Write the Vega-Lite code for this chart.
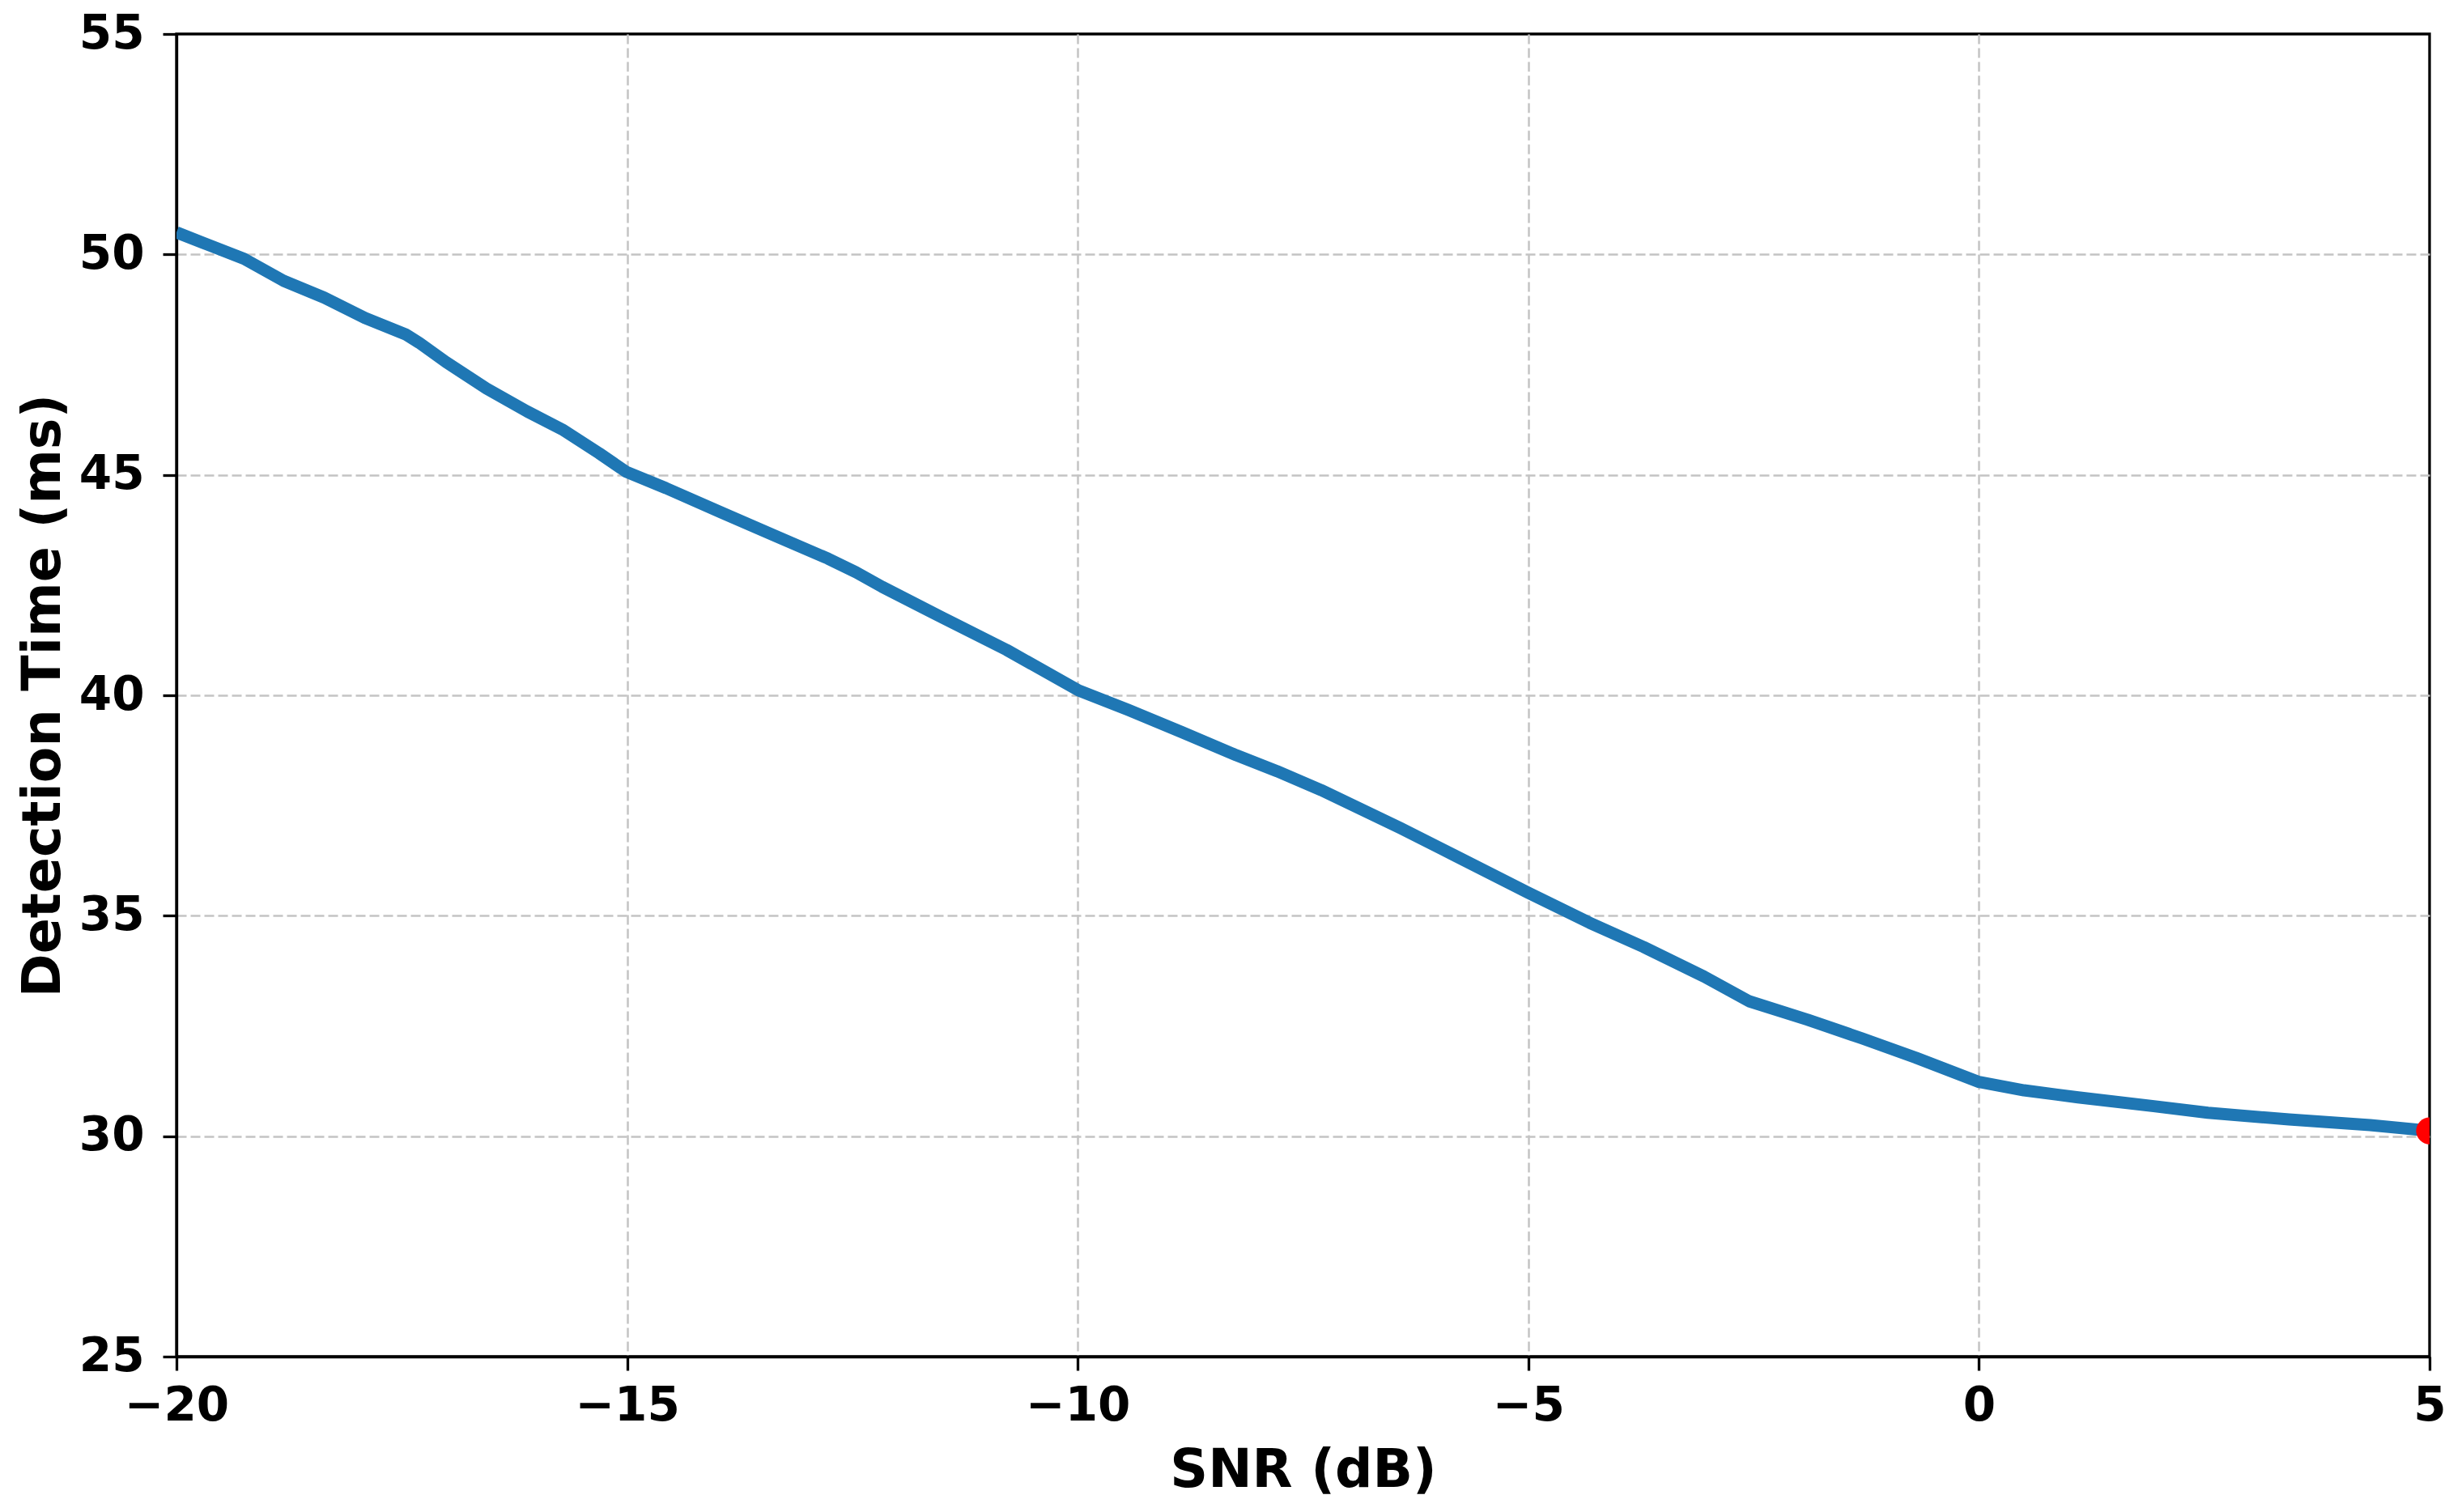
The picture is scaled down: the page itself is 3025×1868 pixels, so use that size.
{
  "$schema": "https://vega.github.io/schema/vega-lite/v6.json",
  "autosize": {"type": "none"},
  "width": 2783,
  "height": 1634,
  "padding": {"left": 218, "top": 42, "right": 24, "bottom": 192},
  "background": "white",
  "config": {
    "view": {"stroke": "black", "strokeWidth": 3.3},
    "axis": {
      "labelFont": "DejaVu Sans",
      "labelFontWeight": "bold",
      "labelFontSize": 58,
      "labelColor": "black",
      "titleFont": "DejaVu Sans",
      "titleFontWeight": "bold",
      "titleFontSize": 65,
      "titleColor": "black",
      "tickColor": "black",
      "tickWidth": 3.3,
      "tickSize": 17,
      "domainColor": "black",
      "domainWidth": 3.3,
      "grid": true,
      "gridColor": "#c4c4c4",
      "gridDash": [12, 5],
      "gridWidth": 2.5,
      "labelFlush": false,
      "labelOverlap": false,
      "labelBound": false
    }
  },
  "data": {
    "values": [
      {"snr": -20.0, "t": 50.50},
      {"snr": -19.70, "t": 50.26},
      {"snr": -19.25, "t": 49.90},
      {"snr": -18.81, "t": 49.40},
      {"snr": -18.36, "t": 49.02},
      {"snr": -17.91, "t": 48.56},
      {"snr": -17.46, "t": 48.19},
      {"snr": -17.31, "t": 48.00},
      {"snr": -17.01, "t": 47.56},
      {"snr": -16.56, "t": 46.96},
      {"snr": -16.11, "t": 46.44},
      {"snr": -15.72, "t": 46.03},
      {"snr": -15.31, "t": 45.49},
      {"snr": -15.01, "t": 45.07},
      {"snr": -14.57, "t": 44.70},
      {"snr": -13.96, "t": 44.15},
      {"snr": -13.36, "t": 43.62},
      {"snr": -12.77, "t": 43.10},
      {"snr": -12.46, "t": 42.79},
      {"snr": -12.17, "t": 42.46},
      {"snr": -11.50, "t": 41.76},
      {"snr": -10.79, "t": 41.03},
      {"snr": -9.99, "t": 40.11},
      {"snr": -9.44, "t": 39.67},
      {"snr": -8.84, "t": 39.16},
      {"snr": -8.24, "t": 38.64},
      {"snr": -7.79, "t": 38.28},
      {"snr": -7.30, "t": 37.85},
      {"snr": -6.42, "t": 36.99},
      {"snr": -5.82, "t": 36.37},
      {"snr": -5.00, "t": 35.52},
      {"snr": -4.32, "t": 34.84},
      {"snr": -3.72, "t": 34.29},
      {"snr": -3.05, "t": 33.62},
      {"snr": -2.55, "t": 33.06},
      {"snr": -1.90, "t": 32.64},
      {"snr": -1.30, "t": 32.22},
      {"snr": -0.70, "t": 31.78},
      {"snr": 0.0, "t": 31.23},
      {"snr": 0.50, "t": 31.04},
      {"snr": 1.10, "t": 30.88},
      {"snr": 1.94, "t": 30.68},
      {"snr": 2.54, "t": 30.53},
      {"snr": 3.44, "t": 30.38},
      {"snr": 4.34, "t": 30.25},
      {"snr": 5.0, "t": 30.12}
    ]
  },
  "encoding": {
    "x": {
      "field": "snr",
      "type": "quantitative",
      "scale": {"domain": [-20, 5], "nice": false, "zero": false},
      "axis": {
        "title": "SNR (dB)",
        "values": [-20, -15, -10, -5, 0, 5],
        "labelPadding": 15,
        "titlePadding": 19,
        "gridOpacity": {"condition": {"test": "datum.value == 5 || datum.value == -20", "value": 0}, "value": 1}
      }
    },
    "y": {
      "field": "t",
      "type": "quantitative",
      "scale": {"domain": [25, 55], "nice": false, "zero": false},
      "axis": {
        "title": "Detection Time (ms)",
        "values": [25, 30, 35, 40, 45, 50, 55],
        "labelPadding": 23,
        "titlePadding": 10,
        "gridOpacity": {"condition": {"test": "datum.value == 55 || datum.value == 25", "value": 0}, "value": 1}
      }
    }
  },
  "layer": [
    {
      "mark": {"type": "line", "color": "#1f77b4", "strokeWidth": 15, "clip": true, "strokeCap": "butt", "strokeJoin": "round"}
    },
    {
      "transform": [{"filter": "datum.snr == 5"}],
      "mark": {"type": "point", "filled": true, "color": "#ff0000", "size": 1100, "opacity": 1, "clip": true}
    }
  ]
}
